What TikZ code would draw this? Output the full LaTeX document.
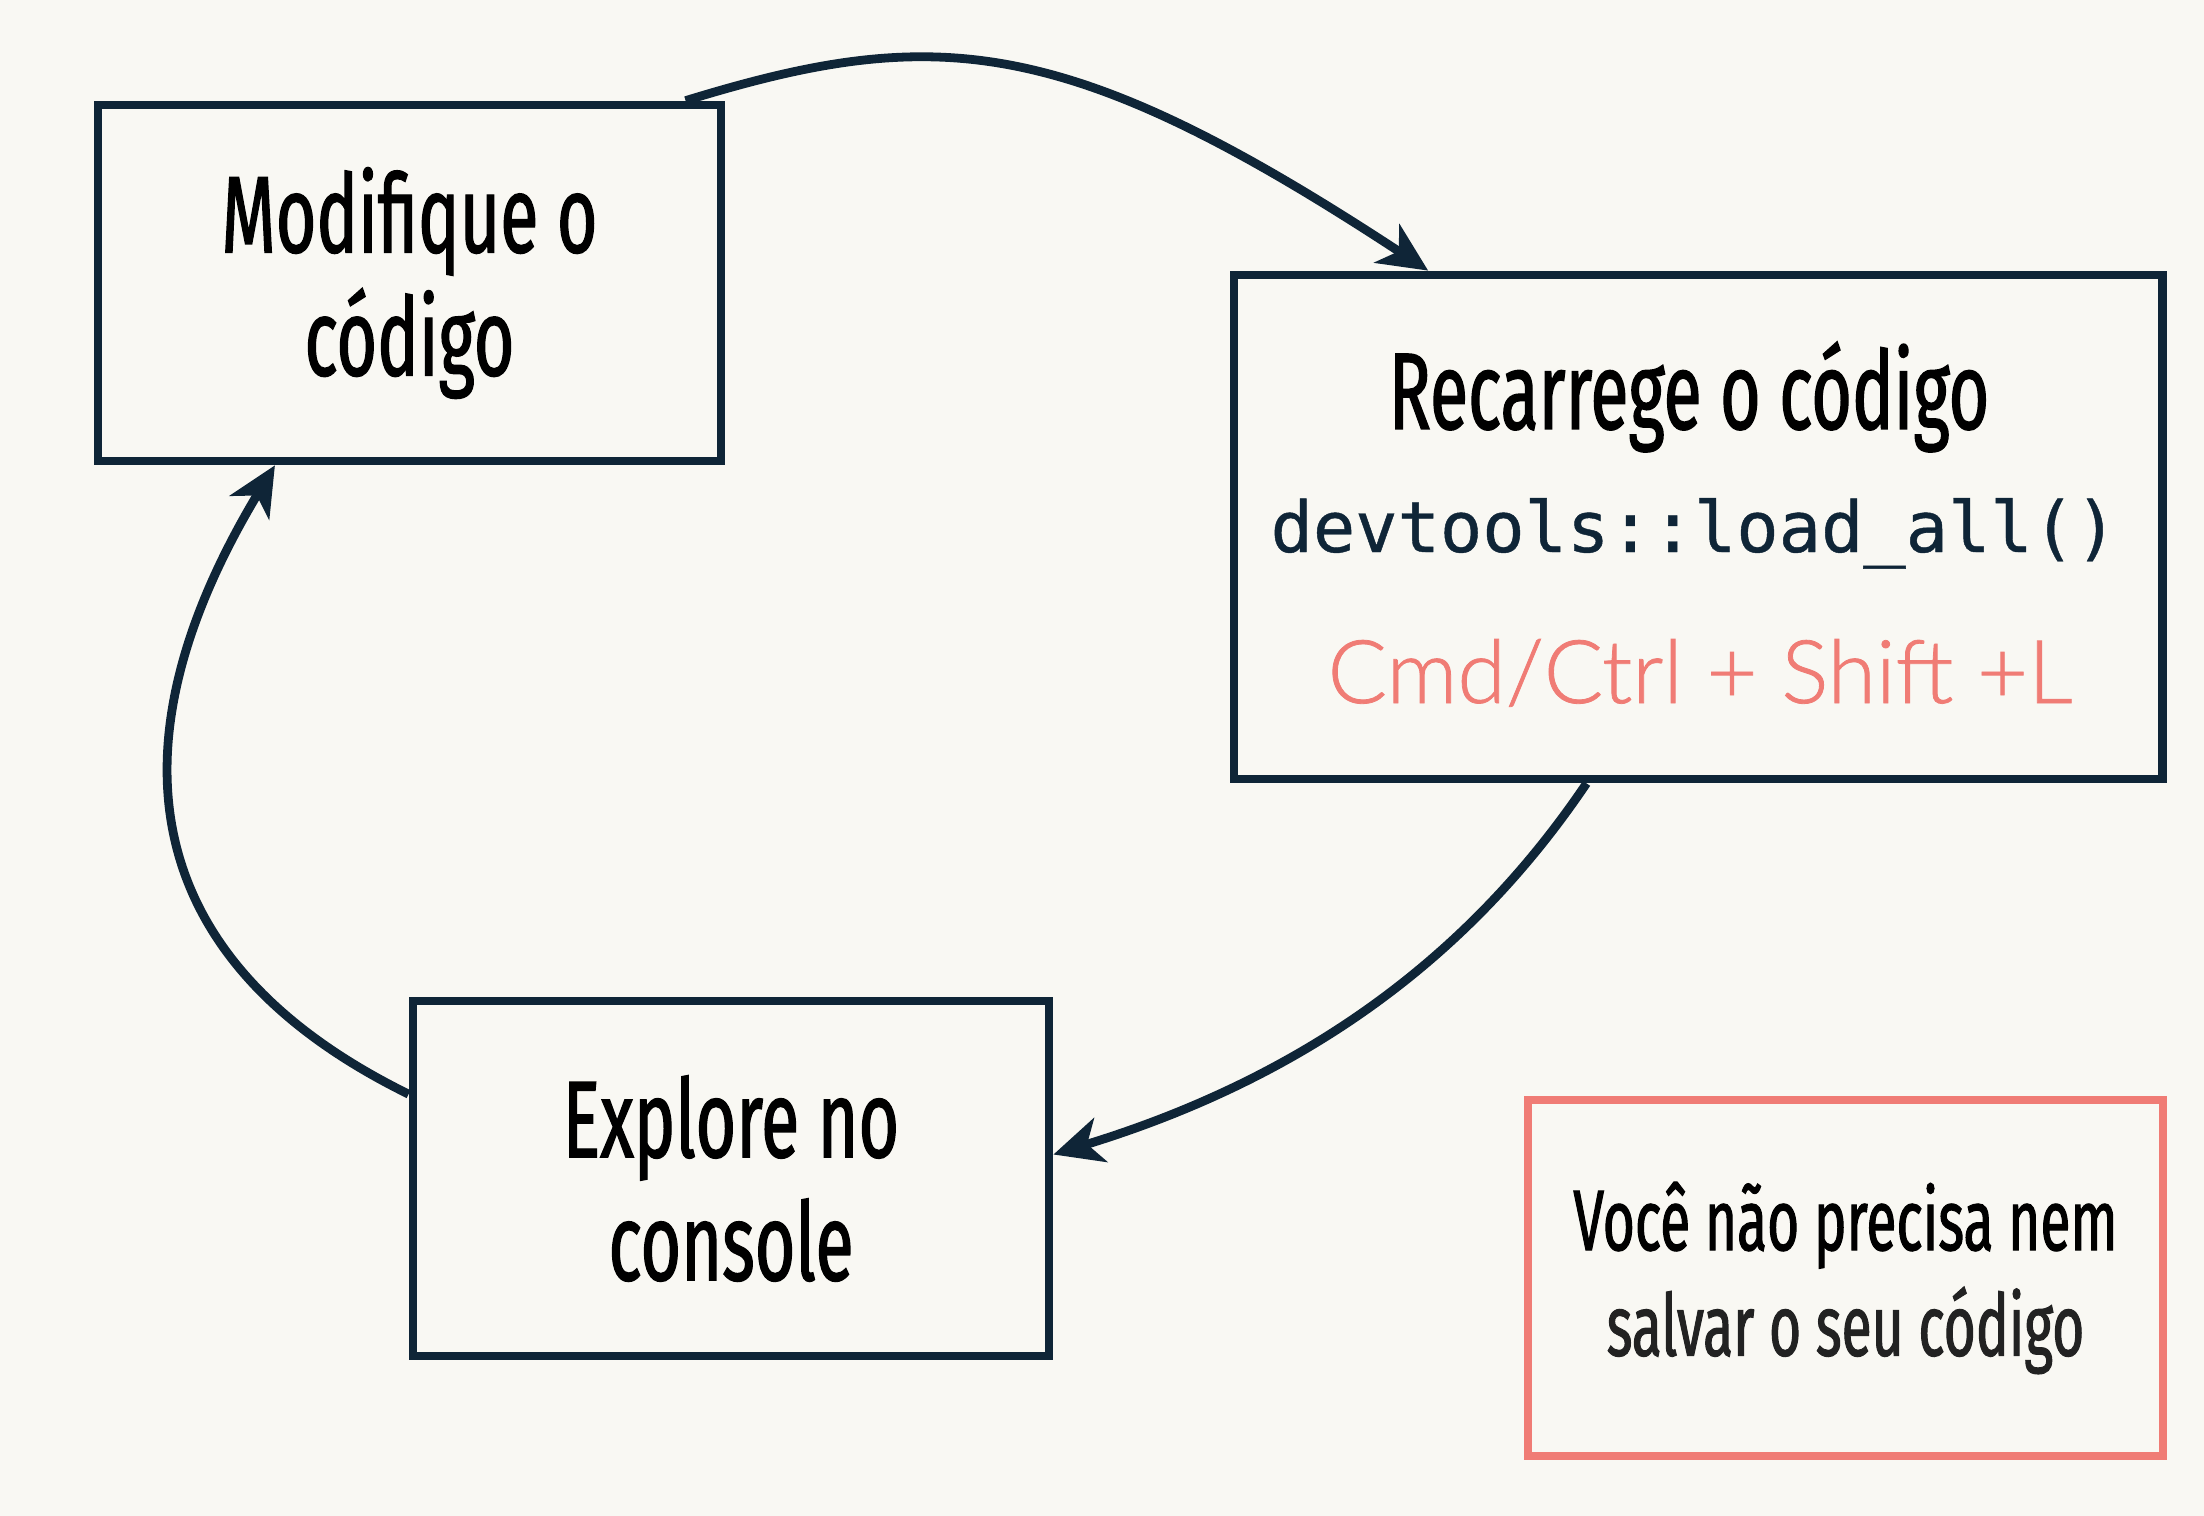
\documentclass[tikz,border=0pt]{standalone}
\usepackage{fontspec}
\setmainfont[FakeStretch=0.64,FakeBold=1.2]{Fira Sans}
\newfontfamily\codefont[FakeBold=0.6]{DejaVu Sans Mono}
\newfontfamily\keyfont[FakeBold=0.9]{Lato Light}
\usetikzlibrary{arrows.meta,calc}
\definecolor{navy}{HTML}{0F2537}
\definecolor{salmon}{HTML}{F07C75}
\definecolor{paper}{HTML}{F9F8F3}
\definecolor{softblack}{HTML}{222222}
\begin{document}
\begin{tikzpicture}[x=0.01cm,y=-0.01cm,
  box/.style={draw=navy, line width=2.4pt, fill=paper, inner sep=0pt, align=center,
    font=\fontsize{31}{35}\selectfont},
  flow/.style={draw=navy, line width=2.5pt, -{Stealth[length=14pt,width=13pt,inset=4pt]}}]
\fill[paper] (0,0) rectangle (2204,1516);
\useasboundingbox (0,0) rectangle (2204,1516);

\node[box, minimum width=6.23cm, minimum height=3.56cm] (A) at (409.5,283) {Modifique o\\código};
\node[box, minimum width=9.28cm, minimum height=5.04cm] (B) at (1698,527) {};
\node[anchor=base, font=\fontsize{31}{35}\selectfont] (Bt) at (1689,429) {Recarrege o código};
\node[anchor=base, font=\codefont\fontsize{20}{24}\selectfont, text=navy] (Bc) at (1694,552) {devtools::load\_all()};
\node[anchor=base, font=\keyfont\fontsize{25}{30}\selectfont, text=salmon] (Bk) at (1700,703) {Cmd/Ctrl + Shift +L};
\node[box, minimum width=6.36cm, minimum height=3.55cm] (C) at (731,1178.5) {Explore no\\console};
\node[box, draw=salmon, minimum width=6.35cm, minimum height=3.56cm,
  font=\fontsize{24.5}{30}\selectfont] (D) at (1845.5,1278) {Você não precisa nem\\\textcolor{softblack}{salvar o seu código}};

\draw[flow] ($(A.north west)!0.937!(A.north east)$) .. controls (935,24) and (1065,32) .. ($(B.north west)!0.212!(B.north east)$);
\draw[flow] ($(B.south west)!0.381!(B.south east)$) .. controls (1470,956) and (1307,1077) .. ($(C.north east)!0.434!(C.south east)$);
\draw[flow] ($(C.north west)!0.268!(C.south west)$) .. controls (156,970) and (94,766) .. ($(A.south west)!0.287!(A.south east)$);
\end{tikzpicture}
\end{document}
